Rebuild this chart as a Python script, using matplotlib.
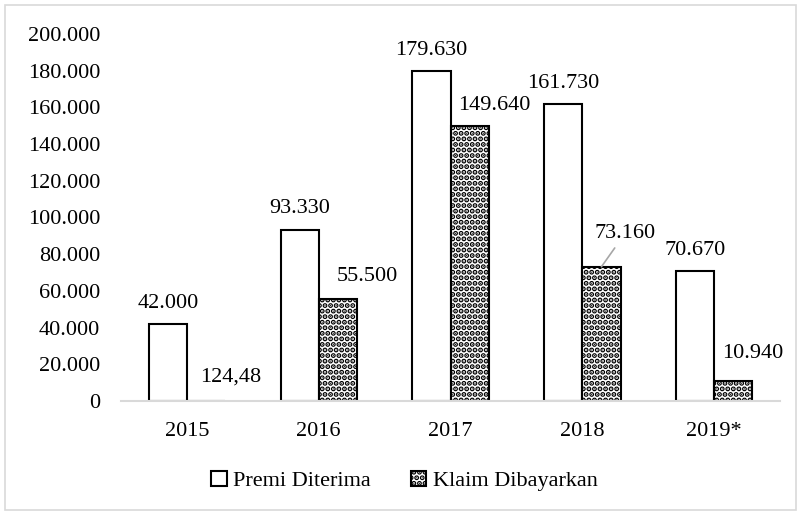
import matplotlib.pyplot as plt
from matplotlib.patches import Rectangle
from matplotlib.ticker import FuncFormatter
import numpy as np

# Data
years = ["2015", "2016", "2017", "2018", "2019*"]
premi_diterima = [42000, 93330, 179630, 161730, 70670]
klaim_dibayarkan = [124.48, 55500, 149640, 73160, 10940]
y_ticks = [0, 20000, 40000, 60000, 80000, 100000, 120000, 140000, 160000, 180000, 200000]

# manual offsets (points) of the Klaim labels, as dragged in the original
klaim_label_offsets = [(18, 17), (21, 16), (18, 15), (17, 24), (14, 20)]


def fmt_id(v):
    """Indonesian number style: dot for thousands, comma for decimals."""
    if float(v).is_integer():
        return f"{int(v):,}".replace(",", ".")
    return f"{v:.2f}".replace(".", ",")


plt.rcParams["font.family"] = ["Liberation Serif", "DejaVu Serif"]
plt.rcParams["hatch.linewidth"] = 2.6

fig = plt.figure(figsize=(8.01, 5.14), dpi=100)
ax = fig.add_axes([0.1511, 0.2198, 0.8227, 0.7141])

x = np.arange(len(years))
w = 0.29
b1 = ax.bar(x - w / 2, premi_diterima, w, color="white", edgecolor="black",
            linewidth=1.5, label="Premi Diterima")
b2 = ax.bar(x + w / 2, klaim_dibayarkan, w, color="white", edgecolor="black",
            linewidth=1.5, hatch="...", label="Klaim Dibayarkan")

# labels above the Premi bars
for xi, v in zip(x, premi_diterima):
    ax.annotate(fmt_id(v), (xi - w / 2, v), xytext=(0, 15), textcoords="offset points",
                ha="center", va="center", fontsize=16)

# Klaim labels moved to the right, with a leader line on 2018
for i, (xi, v) in enumerate(zip(x, klaim_dibayarkan)):
    dx, dy = klaim_label_offsets[i]
    arrow = dict(arrowstyle="-", color="#a6a6a6", lw=1.2, shrinkA=2, shrinkB=0) if i == 3 else None
    ax.annotate(fmt_id(v), (xi + w / 2, v), xytext=(dx, dy), textcoords="offset points",
                ha="center", va="center", fontsize=16, arrowprops=arrow)

ax.set_xlim(-0.5, len(years) - 0.5)
ax.set_ylim(0, 200000)
ax.set_yticks(y_ticks)
ax.yaxis.set_major_formatter(FuncFormatter(lambda v, p: fmt_id(v)))
ax.set_xticks(x)
ax.set_xticklabels(years)
ax.tick_params(axis="y", length=0, pad=15, labelsize=16)
ax.tick_params(axis="x", length=0, pad=15, labelsize=16)

for s in ["top", "right", "left"]:
    ax.spines[s].set_visible(False)
ax.spines["bottom"].set_color("#d9d9d9")
ax.spines["bottom"].set_linewidth(1.5)

fig.legend(handles=[b1, b2], loc="center", bbox_to_anchor=(0.505, 0.064), ncol=2,
           frameon=False, fontsize=16, handlelength=0.7, handleheight=0.7,
           handletextpad=0.3, columnspacing=1.8)

# light grey frame around the whole chart
fig.add_artist(Rectangle((5 / 801, 4 / 514), 791 / 801, 505 / 514, transform=fig.transFigure,
                         fill=False, edgecolor="#d9d9d9", linewidth=1.2))

plt.savefig("out.png", dpi=100)
